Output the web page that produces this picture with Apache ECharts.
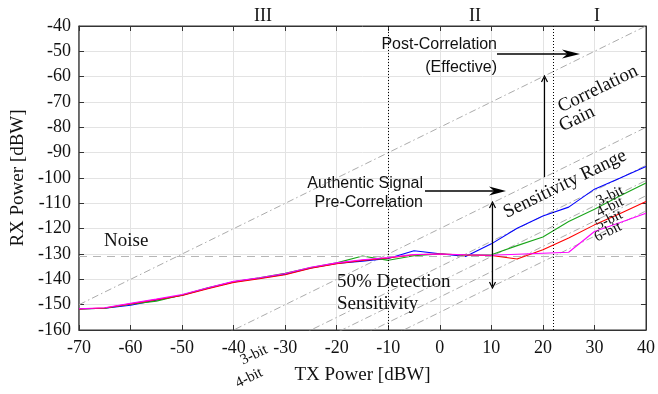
<!DOCTYPE html>
<html>
<head>
<meta charset="utf-8">
<script src="https://cdn.jsdelivr.net/npm/echarts@6/dist/echarts.min.js"></script>
<style>
  html, body { margin: 0; padding: 0; background: #fff; }
  #chart { width: 658px; height: 394px; }
</style>
</head>
<body>
<div id="chart"></div>
<script>
// TX power sweep (dBW)
const txPower = [-70, -65, -60, -55, -50, -45, -40, -35, -30, -25, -20, -15, -10, -5, 0, 5, 10, 15, 20, 25, 30, 35, 40];
// measured RX power per quantisation depth (dBW)
const rx3bit = [-151.7, -151.4, -150.2, -148.2, -146.3, -143.5, -141.0, -139.6, -138.0, -135.5, -133.7, -132.8, -131.8, -128.7, -129.9, -131.0, -126.0, -119.8, -115.0, -111.5, -104.4, -100.0, -95.5];
const rx4bit = [-151.7, -151.4, -149.8, -148.6, -146.2, -143.3, -141.0, -139.4, -137.6, -135.3, -133.5, -130.8, -132.5, -130.7, -130.0, -130.4, -130.3, -126.7, -123.3, -117.2, -112.3, -107.0, -102.0];
const rx5bit = [-151.7, -151.3, -149.7, -148.0, -146.4, -143.7, -141.2, -139.8, -138.2, -135.6, -133.8, -132.5, -131.6, -130.3, -130.0, -130.4, -130.6, -132.0, -128.3, -123.7, -118.5, -114.0, -109.3];
const rx6bit = [-151.6, -151.2, -149.5, -147.8, -146.0, -143.3, -140.8, -139.4, -137.7, -135.2, -133.5, -132.3, -131.4, -130.2, -130.0, -130.3, -130.5, -130.1, -129.7, -129.3, -121.1, -117.6, -113.9];
const seriesNames = ['3-bit', '4-bit', '5-bit', '6-bit'];
const seriesColors = ['#0000ff', '#1aa51a', '#ff0000', '#ff00ff'];

// slope-1 reference lines: RX = TX - offset
const guideOffsets = [80, 120, 135, 141, 147, 153];
const noiseFloor = -131;
const regionBounds = [-10, 22];

const xTicks = { min: -70, max: 40, interval: 10 };
const yTicks = { min: -160, max: -40, interval: 10 };

const SERIF = 'Liberation Serif';
const SANS = 'Liberation Sans';

const chart = echarts.init(document.getElementById('chart'));

const pair = (xs, ys) => xs.map((x, i) => [x, ys[i]]);

const series = [];

// gray dash-dot guides
guideOffsets.forEach(c => {
  series.push({
    type: 'line',
    data: [[xTicks.min, xTicks.min - c], [xTicks.max, xTicks.max - c]],
    symbol: 'none',
    silent: true,
    clip: true,
    z: 1,
    lineStyle: { color: '#ababab', width: 1, type: [7, 3, 1.5, 3] }
  });
});

// noise floor + region separators
series.push({
  type: 'line',
  data: [],
  silent: true,
  markLine: {
    silent: true,
    symbol: 'none',
    label: { show: false },
    data: [
      { yAxis: noiseFloor, lineStyle: { color: '#b5b5b5', width: 1.2, type: [8, 6] } },
      ...regionBounds.map(x => ({ xAxis: x, lineStyle: { color: '#000', width: 1, type: [1, 2] } }))
    ]
  }
});

[rx3bit, rx4bit, rx5bit, rx6bit].forEach((ys, i) => {
  series.push({
    name: seriesNames[i],
    type: 'line',
    data: pair(txPower, ys),
    symbol: 'none',
    z: 3 + i,
    lineStyle: { color: seriesColors[i], width: 1.1 }
  });
});

// annotation helpers (pixel space)
const txt = (text, x, y, opt = {}) => ({
  type: 'text',
  x, y,
  rotation: opt.rot || 0,
  z: 100,
  style: {
    text,
    font: (opt.size || 19) + 'px "' + (opt.family || SERIF) + '"',
    fill: '#111',
    align: opt.align || 'center',
    verticalAlign: 'middle'
  }
});
const seg = (x1, y1, x2, y2, w = 1.3) => ({
  type: 'line', z: 100,
  shape: { x1, y1, x2, y2 },
  style: { stroke: '#000', lineWidth: w }
});
const fillHead = (tx, ty, dirx, diry, len, half) => {
  const nx = -diry, ny = dirx;
  const bx = tx - dirx * len, by = ty - diry * len;
  const mx = tx - dirx * len * 0.7, my = ty - diry * len * 0.7;
  return {
    type: 'polygon', z: 100,
    shape: { points: [[tx, ty], [bx + nx * half, by + ny * half], [mx, my], [bx - nx * half, by - ny * half]] },
    style: { fill: '#000' }
  };
};
const openHead = (tx, ty, dirx, diry, len, half) => {
  const nx = -diry, ny = dirx;
  const bx = tx - dirx * len, by = ty - diry * len;
  return {
    type: 'polyline', z: 100,
    shape: { points: [[bx + nx * half, by + ny * half], [tx, ty], [bx - nx * half, by - ny * half]] },
    style: { stroke: '#000', lineWidth: 1.2, fill: null }
  };
};

const ROT = 26 * Math.PI / 180;

const graphic = [
  txt('III', 263, 16, { size: 18 }),
  txt('II', 475, 16, { size: 18 }),
  txt('I', 597, 16, { size: 18 }),

  txt('Post-Correlation', 497, 45, { family: SANS, size: 16, align: 'right' }),
  txt('(Effective)', 497, 68, { family: SANS, size: 16, align: 'right' }),
  seg(497, 54, 570, 54),
  fillHead(580, 54, 1, 0, 18, 4.5),

  seg(544.5, 177, 544.5, 78, 1.2),
  openHead(544.5, 76, 0, -1, 6, 3),

  txt('Correlation', 598, 89, { rot: ROT }),
  txt('Gain', 577, 119, { rot: ROT }),

  txt('Authentic Signal', 423, 184, { family: SANS, size: 16, align: 'right' }),
  txt('Pre-Correlation', 423, 203, { family: SANS, size: 16, align: 'right' }),
  seg(425, 191, 495, 191),
  fillHead(506, 191, 1, 0, 17, 4.5),

  seg(492.5, 204, 492.5, 286, 1.2),
  openHead(492.5, 202, 0, -1, 6, 3),
  openHead(492.5, 288, 0, 1, 6, 3),

  txt('Sensitivity Range', 565, 184, { rot: ROT }),
  txt('3-bit', 610, 196, { rot: ROT, size: 15 }),
  txt('4-bit', 610, 207, { rot: ROT, size: 15 }),
  txt('5-bit', 609, 220, { rot: ROT, size: 15 }),
  txt('6-bit', 608, 232, { rot: ROT, size: 15 }),

  txt('Noise', 104, 241, { align: 'left' }),
  txt('50% Detection', 337, 282, { align: 'left' }),
  txt('Sensitivity', 337, 304, { align: 'left' }),

  txt('3-bit', 254, 355, { rot: ROT, size: 15 }),
  txt('4-bit', 249, 378, { rot: ROT, size: 15 })
];

const axisText = { fontFamily: SERIF, fontSize: 18, color: '#111' };
const boxLine = { show: true, onZero: false, lineStyle: { color: '#333', width: 1 } };
const inTick = { show: true, inside: true, length: 5, lineStyle: { color: '#333' } };

chart.setOption({
  animation: false,
  backgroundColor: '#fff',
  grid: {
    left: 79, right: 10, top: 26, bottom: 64, containLabel: false,
    show: true, borderColor: '#333', borderWidth: 1, backgroundColor: 'transparent'
  },
  xAxis: [
    {
      type: 'value', ...xTicks,
      axisLine: { show: true, onZero: false, lineStyle: { color: '#333', width: 1.2 } },
      axisTick: inTick,
      axisLabel: { ...axisText, margin: 9 },
      splitLine: { show: true, lineStyle: { color: '#e3e3e3', width: 1 } },
      name: 'TX Power [dBW]',
      nameLocation: 'middle',
      nameGap: 36,
      nameTextStyle: { fontFamily: SERIF, fontSize: 19, color: '#111' }
    },
    {
      type: 'value', ...xTicks, position: 'top',
      axisLine: boxLine, axisTick: inTick,
      axisLabel: { show: false }, splitLine: { show: false }
    }
  ],
  yAxis: [
    {
      type: 'value', ...yTicks,
      axisLine: { show: true, onZero: false, lineStyle: { color: '#555', width: 1.5 } },
      axisTick: inTick,
      axisLabel: { ...axisText, margin: 8 },
      splitLine: { show: true, lineStyle: { color: '#e3e3e3', width: 1 } },
      name: 'RX Power [dBW]',
      nameLocation: 'middle',
      nameGap: 50,
      nameTextStyle: { fontFamily: SERIF, fontSize: 19, color: '#111' }
    },
    {
      type: 'value', ...yTicks, position: 'right',
      axisLine: boxLine, axisTick: inTick,
      axisLabel: { show: false }, splitLine: { show: false }
    }
  ],
  series,
  graphic
});

window.addEventListener('resize', () => chart.resize());
</script>
</body>
</html>
